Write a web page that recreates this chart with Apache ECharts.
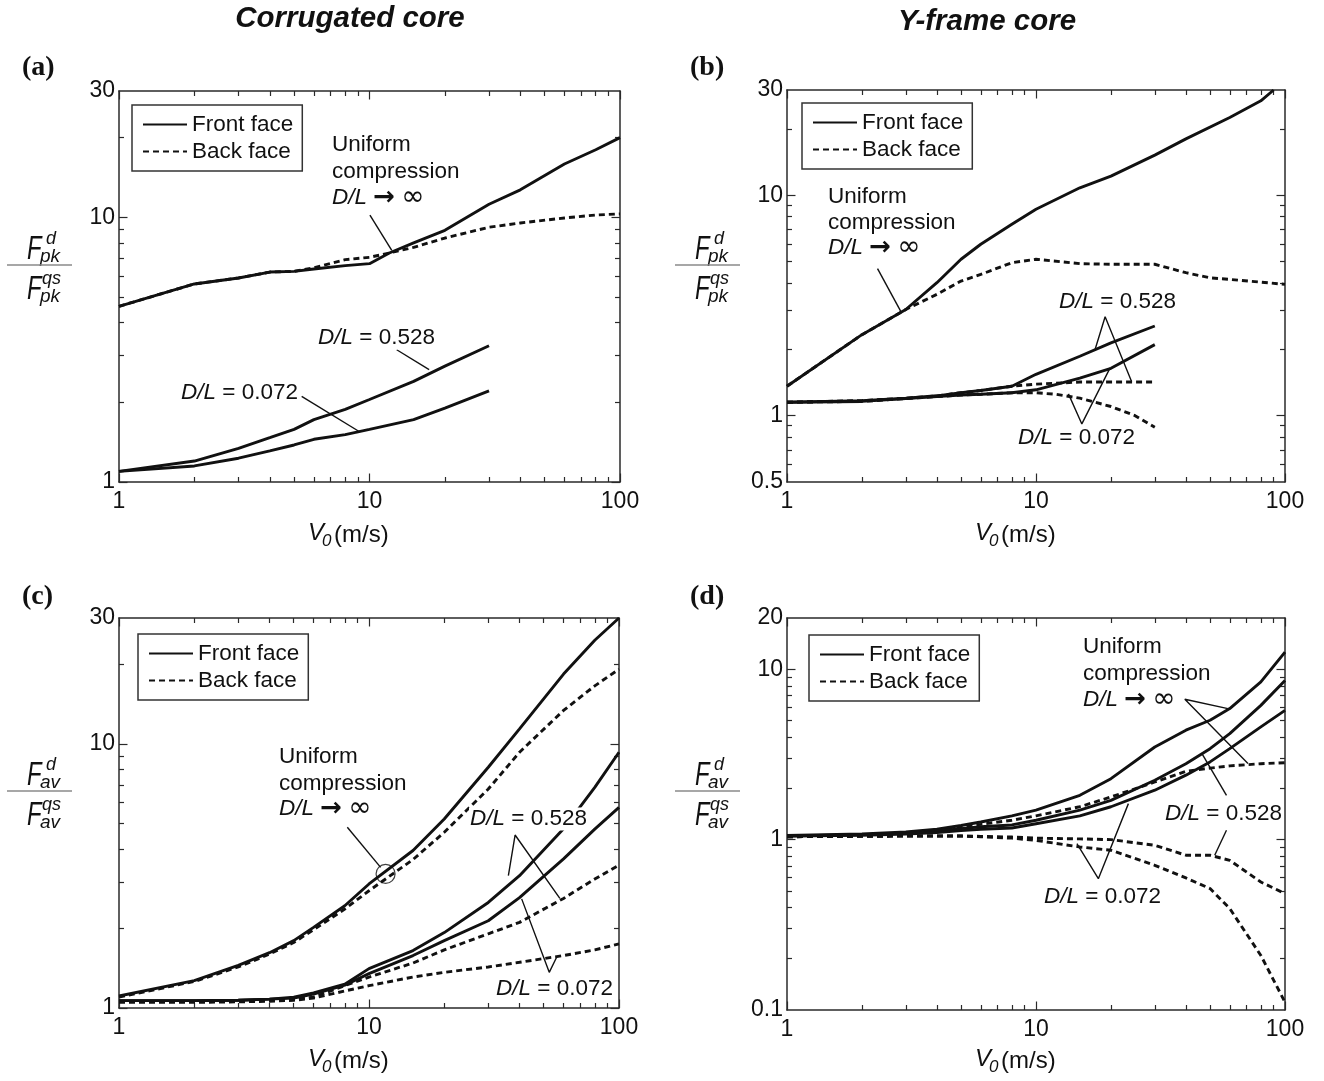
<!DOCTYPE html>
<html><head><meta charset="utf-8">
<script src="https://cdn.jsdelivr.net/npm/echarts@6/dist/echarts.min.js"></script>
<style>html,body{margin:0;padding:0;background:#fff}#c{width:1324px;height:1081px}</style>
</head><body><div id="c"></div>
<script>
// ---------------- tick labels / tick values ----------------
const xTickLabels = [1, 10, 100];
const xTickMajor = [1, 10, 100];
const xTickMinor = [2,3,4,5,6,7,8,9,20,30,40,50,60,70,80,90];
const yLabelsA = [1, 10, 30];
const yMajorA = [1, 10];
const yMinorA = [2,3,4,5,6,7,8,9,20];
const yLabelsB = [0.5, 1, 10, 30];
const yMajorB = [1, 10];
const yMinorB = [0.6,0.7,0.8,0.9,2,3,4,5,6,7,8,9,20];
const yLabelsC = [1, 10, 30];
const yMajorC = [1, 10];
const yMinorC = [2,3,4,5,6,7,8,9,20];
const yLabelsD = [0.1, 1, 10, 20];
const yMajorD = [1, 10];
const yMinorD = [0.2,0.3,0.4,0.5,0.6,0.7,0.8,0.9,2,3,4,5,6,7,8,9];

// ---------------- (a) Corrugated core, peak force ----------------
const xA_uni = [1,2,3,4,5,6,8,10,12,15,20,30,40,60,80,100];
const yA_uniFront = [4.61,5.60,5.90,6.21,6.25,6.38,6.57,6.68,7.33,8.0,8.93,11.2,12.7,15.9,18.0,20.0];
const yA_uniBack  = [4.61,5.60,5.90,6.21,6.25,6.45,6.92,7.06,7.33,7.7,8.35,9.17,9.52,9.94,10.2,10.3];
const xA_dl = [1,2,3,4,5,6,8,10,15,20,30];
const yA_528Front = [1.097,1.20,1.34,1.47,1.58,1.72,1.88,2.05,2.40,2.74,3.27];
const yA_072Front = [1.097,1.15,1.23,1.31,1.38,1.45,1.51,1.58,1.72,1.90,2.21];

// ---------------- (b) Y-frame core, peak force ----------------
const xB_uniFront = [1,2,3,4,5,6,8,10,15,20,30,40,60,80,90];
const yB_uniFront = [1.36,2.33,3.03,4.01,5.12,5.99,7.38,8.64,10.8,12.2,15.2,18.0,22.5,26.8,30];
const xB_uniBack = [1,2,3,4,5,6,8,10,15,20,30,40,50,60,100];
const yB_uniBack = [1.36,2.33,3.03,3.55,4.08,4.37,4.94,5.12,4.89,4.86,4.86,4.45,4.22,4.15,3.94];
const xB_dl = [1,2,3,4,5,6,8,10,15,20,30];
const yB_528Front = [1.15,1.17,1.20,1.23,1.27,1.30,1.36,1.54,1.86,2.14,2.55];
const yB_072Front = [1.15,1.16,1.195,1.22,1.24,1.25,1.27,1.31,1.48,1.64,2.10];
const yB_528Back  = [1.15,1.17,1.20,1.23,1.27,1.30,1.36,1.39,1.42,1.42,1.42];
const xB_072Back = [1,2,3,4,5,6,8,10,12,15,20,25,30];
const yB_072Back = [1.15,1.16,1.195,1.22,1.24,1.25,1.27,1.27,1.25,1.20,1.10,1.0,0.885];

// ---------------- (c) Corrugated core, average force ----------------
const xC = [1,2,3,4,5,6,8,10,15,20,30,40,60,80,100];
const yC_uniFront = [1.11,1.27,1.45,1.62,1.80,2.02,2.44,2.95,3.95,5.2,8.16,11.4,18.4,24.7,30];
const yC_uniBack  = [1.10,1.26,1.43,1.60,1.77,1.98,2.37,2.78,3.65,4.63,6.75,9.3,13.4,16.6,19.2];
const yC_528Front = [1.066,1.066,1.07,1.08,1.10,1.14,1.23,1.41,1.65,1.93,2.51,3.17,4.77,6.85,9.3];
const yC_072Front = [1.066,1.066,1.07,1.08,1.09,1.13,1.22,1.35,1.58,1.80,2.14,2.62,3.67,4.76,5.75];
const yC_528Back  = [1.057,1.057,1.06,1.07,1.08,1.10,1.215,1.31,1.48,1.66,1.91,2.11,2.60,3.08,3.48];
const yC_072Back  = [1.05,1.05,1.055,1.06,1.07,1.09,1.16,1.215,1.31,1.365,1.43,1.49,1.58,1.66,1.75];

// ---------------- (d) Y-frame core, average force ----------------
const xD = [1,2,3,4,5,6,8,10,15,20,30,40,50,60,80,100];
const yD_uniFront = [1.06,1.08,1.11,1.15,1.21,1.27,1.38,1.49,1.82,2.28,3.50,4.39,5.02,5.88,8.43,12.6];
const yD_528Front = [1.05,1.07,1.09,1.12,1.16,1.19,1.22,1.30,1.49,1.70,2.23,2.79,3.42,4.19,6.14,8.6];
const yD_072Front = [1.05,1.06,1.08,1.10,1.13,1.15,1.17,1.24,1.38,1.56,1.95,2.39,2.86,3.42,4.59,5.74];
const yD_uniBack  = [1.04,1.06,1.09,1.13,1.19,1.23,1.30,1.38,1.56,1.78,2.18,2.52,2.63,2.71,2.79,2.83];
const yD_528Back  = [1.04,1.045,1.05,1.05,1.05,1.045,1.036,1.02,1.01,1.0,0.926,0.81,0.81,0.756,0.564,0.482];
const yD_072Back  = [1.04,1.045,1.05,1.05,1.05,1.04,1.02,0.99,0.906,0.866,0.707,0.596,0.516,0.394,0.209,0.111];

// ---------------- annotation leader lines (data space) ----------------
const annA = [
  [[10.04,10.2],[12.27,7.5]],
  [[12.84,3.16],[17.3,2.66]],
  [[5.36,2.106],[9.16,1.545]]
];
const annB = [
  [[2.31,4.64],[2.86,2.98]],
  [[17.28,2.0],[18.95,2.81],[24.2,1.43]],
  [[13.5,1.255],[15.28,0.917],[19.84,1.647]]
];
const annC = [
  [[8.19,4.84],[11.13,3.41]],
  [[36.1,3.17],[38.4,4.52],[58.0,2.60]],
  [[40.8,2.59],[52.6,1.365],[56.3,1.556]]
];
const annD = [
  [[59.0,5.88],[39.6,6.67],[71.0,2.795]],
  [[58.2,1.82],[46.4,3.2]],
  [[58.2,1.136],[52.2,0.81]],
  [[14.6,0.947],[17.8,0.59],[23.5,1.627]]
];
const circleC = [[11.65,3.22]];

// ---------------- build chart ----------------
const FONT = '"Liberation Sans", Arial, Helvetica, sans-serif';
const SERIF = '"Liberation Serif", "Times New Roman", serif';
const INK = '#111';
const AXC = '#2a2a2a';

const grids = [
  {left:119, top:91, width:501, height:391},
  {left:787, top:90, width:498, height:392},
  {left:119, top:618, width:500, height:390},
  {left:787, top:618, width:498, height:392}
];
const yCfg = [
  [yLabelsA, yMajorA, yMinorA],
  [yLabelsB, yMajorB, yMinorB],
  [yLabelsC, yMajorC, yMinorC],
  [yLabelsD, yMajorD, yMinorD]
];

function fmt(v){ return String(+(+v).toPrecision(3)); }

function makeAxes(gi, dim, labels, major, minor) {
  const min = labels[0], max = labels[labels.length-1];
  const base = {type:'log', logBase:10, gridIndex:gi, min:min, max:max,
    splitLine:{show:false}, minorTick:{show:false}, minorSplitLine:{show:false}, silent:true};
  const pA = dim === 'x' ? 'bottom' : 'left';
  const pB = dim === 'x' ? 'top' : 'right';
  const ls = {color:AXC, width:1.5};
  const ts = {color:AXC, width:1.2};
  const lab = {show:true, customValues:labels, formatter:fmt, color:INK, fontSize:23, fontFamily:FONT,
    margin: dim === 'x' ? 8 : 4, showMinLabel:true, showMaxLabel:true, hideOverlap:false};
  if (dim === 'y') lab.padding = [6, 0, 0, 0];
  return [
    Object.assign({}, base, {position:pA, axisLine:{show:true, onZero:false, lineStyle:ls},
      axisTick:{show:true, inside:true, length:5, customValues:minor, lineStyle:ts}, axisLabel:lab}),
    Object.assign({}, base, {position:pA, axisLine:{show:false, onZero:false},
      axisTick:{show:true, inside:true, length:8.5, customValues:major, lineStyle:ts}, axisLabel:{show:false}}),
    Object.assign({}, base, {position:pB, axisLine:{show:true, onZero:false, lineStyle:ls},
      axisTick:{show:true, inside:true, length:5, customValues:minor, lineStyle:ts}, axisLabel:{show:false}}),
    Object.assign({}, base, {position:pB, axisLine:{show:false, onZero:false},
      axisTick:{show:true, inside:true, length:8.5, customValues:major, lineStyle:ts}, axisLabel:{show:false}})
  ];
}

const xAxes = [], yAxes = [];
for (let g = 0; g < 4; g++) {
  xAxes.push.apply(xAxes, makeAxes(g, 'x', xTickLabels, xTickMajor, xTickMinor));
  yAxes.push.apply(yAxes, makeAxes(g, 'y', yCfg[g][0], yCfg[g][1], yCfg[g][2]));
}

function zip(xs, ys){ return xs.map((x, i) => [x, ys[i]]); }
function curve(g, name, xs, ys, dashed) {
  return {type:'line', name:name, xAxisIndex:g*4, yAxisIndex:g*4, data:zip(xs, ys),
    symbol:'none', showSymbol:false, silent:true, animation:false, z: dashed ? 3 : 4,
    lineStyle:{color:INK, width:2.9, type: dashed ? [6,4] : 'solid'}, itemStyle:{color:INK}};
}
function leader(g, pts) {
  return {type:'line', name:'_leader', xAxisIndex:g*4, yAxisIndex:g*4, data:pts,
    symbol:'none', silent:true, animation:false, z:5,
    lineStyle:{color:INK, width:1.4}, itemStyle:{color:INK}};
}

const series = [
  curve(0,'Front face', xA_uni, yA_uniFront),
  curve(0,'Back face', xA_uni, yA_uniBack, true),
  curve(0,'Front face', xA_dl, yA_528Front),
  curve(0,'Front face', xA_dl, yA_072Front),

  curve(1,'Front face', xB_uniFront, yB_uniFront),
  curve(1,'Back face', xB_uniBack, yB_uniBack, true),
  curve(1,'Front face', xB_dl, yB_528Front),
  curve(1,'Front face', xB_dl, yB_072Front),
  curve(1,'Back face', xB_dl, yB_528Back, true),
  curve(1,'Back face', xB_072Back, yB_072Back, true),

  curve(2,'Front face', xC, yC_uniFront),
  curve(2,'Back face', xC, yC_uniBack, true),
  curve(2,'Front face', xC, yC_528Front),
  curve(2,'Front face', xC, yC_072Front),
  curve(2,'Back face', xC, yC_528Back, true),
  curve(2,'Back face', xC, yC_072Back, true),

  curve(3,'Front face', xD, yD_uniFront),
  curve(3,'Front face', xD, yD_528Front),
  curve(3,'Front face', xD, yD_072Front),
  curve(3,'Back face', xD, yD_uniBack, true),
  curve(3,'Back face', xD, yD_528Back, true),
  curve(3,'Back face', xD, yD_072Back, true)
];
annA.forEach(p => series.push(leader(0, p)));
annB.forEach(p => series.push(leader(1, p)));
annC.forEach(p => series.push(leader(2, p)));
annD.forEach(p => series.push(leader(3, p)));
series.push({type:'scatter', name:'_circle', xAxisIndex:8, yAxisIndex:8, data:circleC,
  symbol:'circle', symbolSize:19, silent:true, animation:false, z:5,
  itemStyle:{color:'rgba(0,0,0,0)', borderColor:INK, borderWidth:1.2}});

const legendPos = [[132,105],[802,103],[138,634],[809,635]];
const legends = legendPos.map(p => ({
  data:['Front face','Back face'], orient:'vertical', left:p[0], top:p[1],
  itemWidth:44, itemHeight:22, itemGap:4, padding:[8,9,8,10], selectedMode:false,
  borderColor:'#333', borderWidth:1.5, backgroundColor:'#fff', z:20,
  itemStyle:{opacity:0}, textStyle:{fontSize:22.5, color:INK, fontFamily:FONT}
}));

// ---------------- text graphics ----------------
function txt(x, y, text, st, extra) {
  return Object.assign({type:'text', x:x, y:y, z:100, silent:true,
    style:Object.assign({text:text, fill:INK, fontSize:22, fontFamily:FONT, align:'left', verticalAlign:'middle'}, st || {})}, extra || {});
}
const RICH = {
  i:{fontStyle:'italic', fontSize:22.5, fontFamily:FONT, fill:INK},
  a:{fontSize:26, fontFamily:'"DejaVu Sans", sans-serif', fontWeight:'bold', fill:INK},
  f:{fontSize:28, fontFamily:'"DejaVu Sans", sans-serif', fill:INK}
};
function richTxt(x, y, text) {
  return txt(x, y, text, {backgroundColor:'#fff', padding:[0,1], fontSize:22.5, rich:RICH});
}
const graphics = [];
graphics.push(txt(350, 19, 'Corrugated core', {align:'center', fontSize:29.5, fontWeight:'bold', fontStyle:'italic'}));
graphics.push(txt(987, 22, 'Y-frame core', {align:'center', fontSize:29.5, fontWeight:'bold', fontStyle:'italic'}));
[['(a)',22,68],['(b)',690,68],['(c)',22,597],['(d)',690,597]].forEach(p =>
  graphics.push(txt(p[1], p[2], p[0], {fontFamily:SERIF, fontWeight:'bold', fontSize:28})));

// x-axis names
[[0,0],[667,0],[0,526],[667,526]].forEach(o => {
  graphics.push(txt(308+o[0], 533+o[1], 'V', {fontStyle:'italic', fontSize:24}));
  graphics.push(txt(322+o[0], 541+o[1], '0', {fontStyle:'italic', fontSize:17}));
  graphics.push(txt(334+o[0], 535+o[1], '(m/s)', {fontSize:24}));
});

// y-axis names (fractions)
function fraction(bx, by, sub) {
  graphics.push(txt(bx+20, by-15, 'F', {fontStyle:'italic', fontSize:33}, {scaleX:0.72}));
  graphics.push(txt(bx+39, by-26, 'd', {fontStyle:'italic', fontSize:18}));
  graphics.push(txt(bx+33, by-8, sub, {fontStyle:'italic', fontSize:19}));
  graphics.push({type:'line', z:100, silent:true, shape:{x1:bx, y1:by, x2:bx+65, y2:by},
    style:{stroke:'#8a8a8a', lineWidth:1.5}});
  graphics.push(txt(bx+20, by+25, 'F', {fontStyle:'italic', fontSize:33}, {scaleX:0.72}));
  graphics.push(txt(bx+35, by+14, 'qs', {fontStyle:'italic', fontSize:18}));
  graphics.push(txt(bx+33, by+32, sub, {fontStyle:'italic', fontSize:19}));
}
fraction(7, 265, 'pk');
fraction(675, 265, 'pk');
fraction(7, 791, 'av');
fraction(675, 791, 'av');

// annotation texts
function uniform(x, y1, y2, y3) {
  graphics.push(richTxt(x, y1, 'Uniform'));
  graphics.push(richTxt(x, y2, 'compression'));
  graphics.push(richTxt(x, y3, '{i|D/L} {a|\u2192} {f|\u221E}'));
}
uniform(331, 145, 172, 198);
graphics.push(richTxt(317, 338, '{i|D/L} = 0.528'));
graphics.push(richTxt(180, 393, '{i|D/L} = 0.072'));

uniform(827, 197, 223, 248);
graphics.push(richTxt(1058, 302, '{i|D/L} = 0.528'));
graphics.push(richTxt(1017, 438, '{i|D/L} = 0.072'));

uniform(278, 757, 784, 809);
graphics.push(richTxt(469, 819, '{i|D/L} = 0.528'));
graphics.push(richTxt(495, 989, '{i|D/L} = 0.072'));

uniform(1082, 647, 674, 700);
graphics.push(richTxt(1164, 814, '{i|D/L} = 0.528'));
graphics.push(richTxt(1043, 897, '{i|D/L} = 0.072'));

const chart = echarts.init(document.getElementById('c'), null, {renderer:'canvas'});
chart.setOption({
  animation:false,
  backgroundColor:'#fff',
  grid: grids.map(g => Object.assign({containLabel:false, outerBoundsMode:'none'}, g)),
  xAxis: xAxes,
  yAxis: yAxes,
  legend: legends,
  series: series,
  graphic: graphics
});
</script></body></html>
